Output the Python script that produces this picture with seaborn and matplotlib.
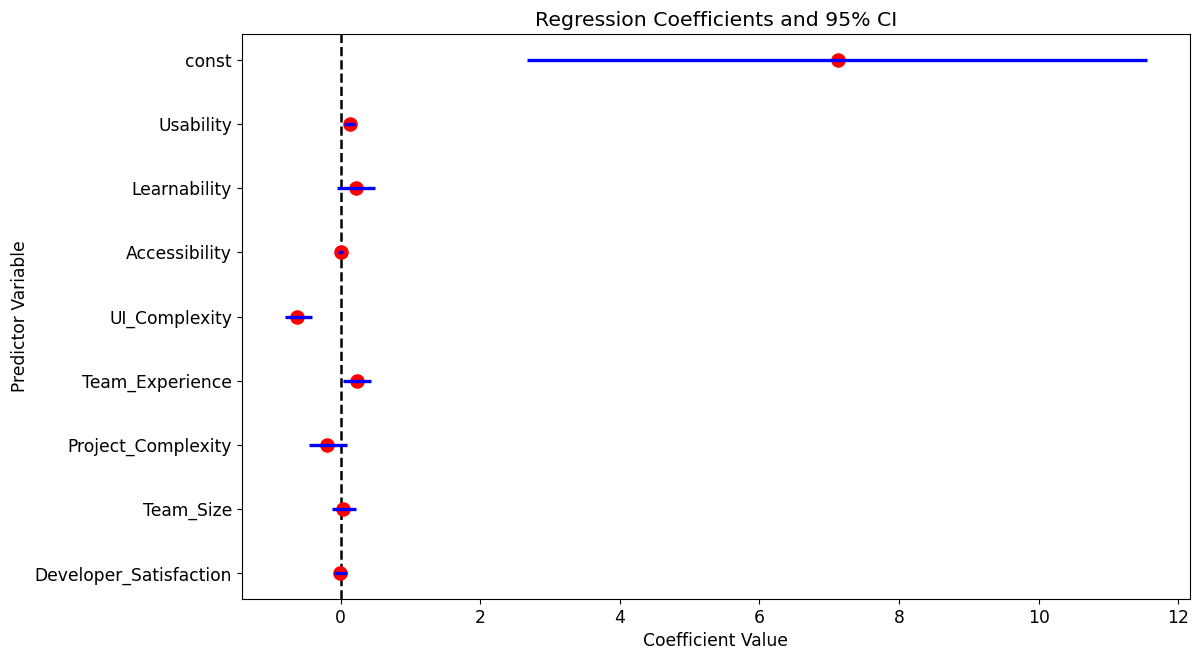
import matplotlib
matplotlib.use("Agg")
import matplotlib.pyplot as plt
import seaborn as sns
import pandas as pd

# regression output
predictors = ["const", "Usability", "Learnability", "Accessibility", "UI_Complexity",
              "Team_Experience", "Project_Complexity", "Team_Size", "Developer_Satisfaction"]
coefs = [7.12, 0.13, 0.22, 0.00, -0.62, 0.24, -0.19, 0.04, -0.01]
ci_low = [2.67, 0.05, -0.05, -0.04, -0.80, 0.04, -0.45, -0.12, -0.10]
ci_high = [11.55, 0.21, 0.49, 0.04, -0.41, 0.43, 0.09, 0.22, 0.09]

df = pd.DataFrame({"predictor": predictors, "coef": coefs,
                   "low": ci_low, "high": ci_high})

fig, ax = plt.subplots(figsize=(11.95, 6.53), dpi=100)
fig.subplots_adjust(left=0.2023, right=0.9958, top=0.9475, bottom=0.0827)

sns.scatterplot(data=df, x="coef", y="predictor", color="red", s=110,
                linewidth=0, zorder=2, ax=ax)
ax.hlines(df["predictor"], df["low"], df["high"], color="blue", linewidth=2.4, zorder=3)
ax.axvline(0, color="black", linestyle="--", linewidth=1.8, zorder=1)

ax.margins(x=0.05, y=0.05)
ax.tick_params(labelsize=12.3)
ax.set_title("Regression Coefficients and 95% CI", fontsize=14.7)
ax.set_xlabel("Coefficient Value", fontsize=12.3)
ax.set_ylabel("Predictor Variable", fontsize=12.3)

fig.savefig("out.png", dpi=100)
